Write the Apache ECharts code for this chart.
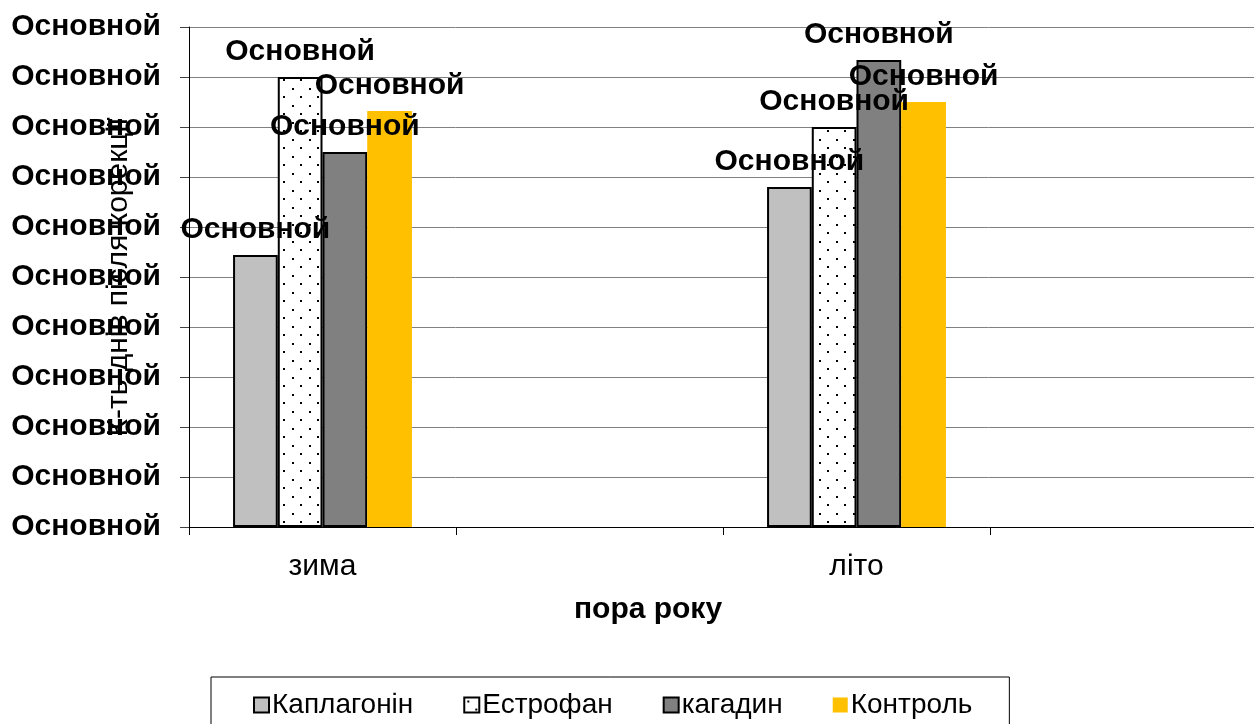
<!DOCTYPE html>
<html>
<head>
<meta charset="utf-8">
<script src="https://cdn.jsdelivr.net/npm/echarts@6/dist/echarts.min.js"></script>
<style>
  html, body { margin: 0; padding: 0; background: #fff; }
  #chart { width: 1254px; height: 724px; }
</style>
</head>
<body>
<div id="chart"></div>
<script>
// дані діаграми
var categories = ['зима', '', 'літо', ''];
var seriesNames = ['Каплагонін', 'Естрофан', 'кагадин', 'Контроль'];
var kaplagonin = [5.44, null, 6.8, null];
var estrofan = [9.0, null, 8.0, null];
var kagadin = [7.5, null, 9.34, null];
var kontrol = [8.32, null, 8.5, null];
var yTickLabels = ['Основной', 'Основной', 'Основной', 'Основной', 'Основной', 'Основной',
    'Основной', 'Основной', 'Основной', 'Основной', 'Основной'];
var dataLabel = 'Основной';

var font = '"Liberation Sans", Arial, sans-serif';

// точковий візерунок для Естрофан
function dotPattern() {
    var c = document.createElement('canvas');
    c.width = 17;
    c.height = 17;
    var ctx = c.getContext('2d');
    ctx.fillStyle = '#fff';
    ctx.fillRect(0, 0, 17, 17);
    ctx.fillStyle = '#000';
    ctx.fillRect(3, 3, 2, 2);
    ctx.fillRect(11, 11, 2, 2);
    return c;
}

var myChart = echarts.init(document.getElementById('chart'));

function barSeries(name, data, color, withBorder) {
    return {
        name: name,
        type: 'bar',
        data: data,
        barGap: '0%',
        barCategoryGap: '33%',
        itemStyle: {
            color: color,
            borderColor: withBorder ? '#000' : 'transparent',
            borderWidth: withBorder ? 2 : 0
        },
        label: {
            show: true,
            position: 'top',
            distance: 10,
            formatter: function () { return dataLabel; },
            fontFamily: font,
            fontWeight: 'bold',
            fontSize: 30,
            color: '#000'
        }
    };
}

var option = {
    animation: false,
    textStyle: { fontFamily: font },
    grid: {
        left: 189,
        top: 27,
        width: 1068,
        bottom: 197,
        outerBoundsMode: 'none',
        containLabel: false
    },
    legend: {
        data: seriesNames,
        icon: 'rect',
        left: 211,
        top: 677,
        padding: [14, 37, 30, 42],
        itemGap: 50,
        itemWidth: 15,
        itemHeight: 15,
        borderColor: '#000',
        borderWidth: 1,
        textStyle: { fontFamily: font, fontSize: 28, color: '#000', padding: [0, 0, 0, -2] }
    },
    xAxis: {
        type: 'category',
        data: categories,
        name: 'пора року',
        nameLocation: 'middle',
        nameGap: 68,
        nameMoveOverlap: false,
        nameTextStyle: {
            fontFamily: font,
            fontWeight: 'bold',
            fontSize: 30,
            color: '#000',
            padding: [0, 150, 0, 0]
        },
        axisLine: { lineStyle: { color: '#000', width: 1 } },
        axisTick: { show: true, length: 8, lineStyle: { color: '#000' } },
        axisLabel: {
            fontFamily: font,
            fontSize: 30,
            color: '#000',
            margin: 25
        }
    },
    yAxis: {
        type: 'value',
        min: 0,
        max: 10,
        interval: 1,
        name: 'К-ть днів після корекції',
        nameLocation: 'middle',
        nameGap: 55,
        nameMoveOverlap: false,
        nameTextStyle: { fontFamily: font, fontSize: 30, color: '#000' },
        axisLine: { show: true, lineStyle: { color: '#000', width: 1 } },
        axisTick: { show: true, inside: false, length: 9, lineStyle: { color: '#404040' } },
        splitLine: { lineStyle: { color: '#808080', width: 1 } },
        axisLabel: {
            fontFamily: font,
            fontWeight: 'bold',
            fontSize: 30,
            color: '#000',
            margin: 28,
            formatter: function (v) { return yTickLabels[Math.round(v)]; }
        }
    },
    series: [
        barSeries(seriesNames[0], kaplagonin, '#C0C0C0', true),
        barSeries(seriesNames[1], estrofan, { image: dotPattern(), repeat: 'repeat' }, true),
        barSeries(seriesNames[2], kagadin, '#808080', true),
        barSeries(seriesNames[3], kontrol, '#FFC000', false)
    ]
};

myChart.setOption(option);
</script>
</body>
</html>
